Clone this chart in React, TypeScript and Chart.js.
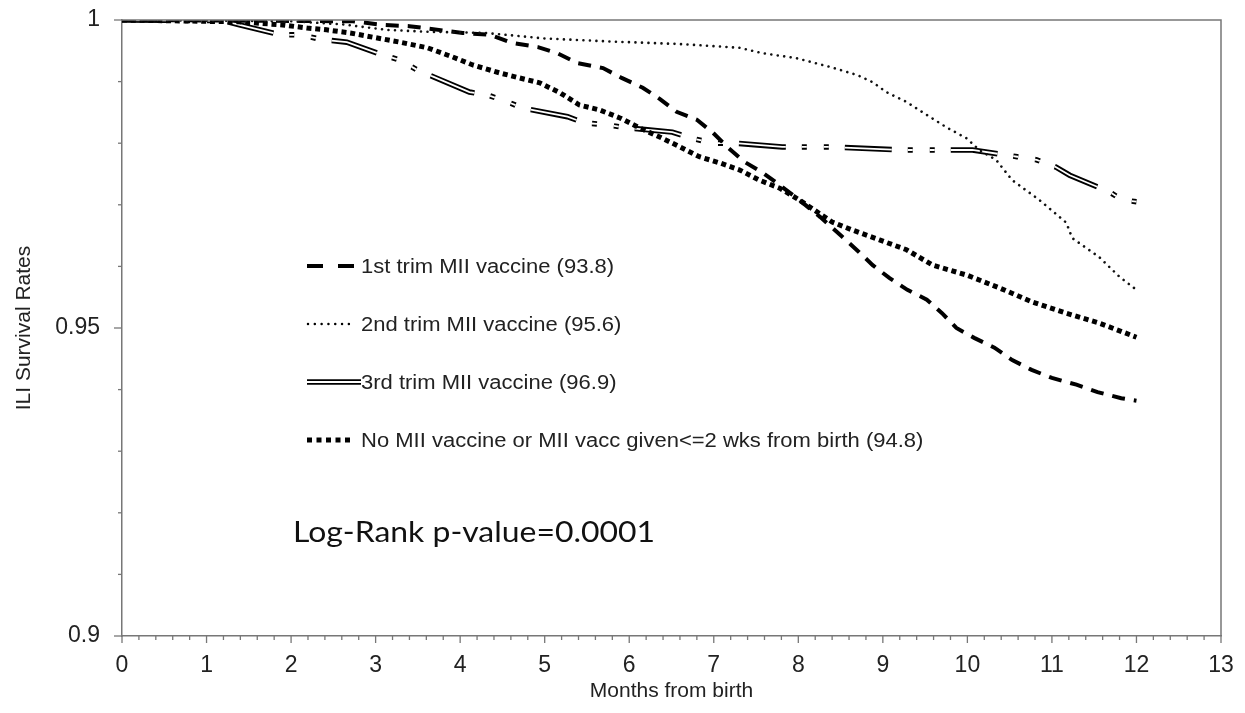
import React, { useEffect, useRef } from 'react';
import { Chart, registerables } from 'chart.js';

Chart.register(...registerables);

const FONT = '"Liberation Sans", Arial, Helvetica, sans-serif';

// ---- data (months from birth, survival) ----
const trim1X = [0, 2.73, 3.09, 3.40, 4.03, 4.35, 4.61, 4.92, 5.15, 5.39, 5.69, 5.91, 6.16, 6.36, 6.56, 6.80, 6.99, 7.16, 7.36, 7.58, 7.78, 8.01, 8.26, 8.52, 8.72, 8.88, 9.08, 9.29, 9.52, 9.70, 9.87, 10.08, 10.32, 10.53, 10.76, 11.00, 11.29, 11.54, 11.82, 12.0];
const trim1Y = [1, 0.9998, 0.9992, 0.9990, 0.9979, 0.9976, 0.9963, 0.9956, 0.9946, 0.9930, 0.9922, 0.9906, 0.9890, 0.9872, 0.9851, 0.9838, 0.9817, 0.9794, 0.9770, 0.9752, 0.9732, 0.9708, 0.9680, 0.9648, 0.9623, 0.9602, 0.9581, 0.9562, 0.9546, 0.9524, 0.9500, 0.9484, 0.9468, 0.9448, 0.9432, 0.9419, 0.9408, 0.9396, 0.9386, 0.9382];

const trim2X = [0, 2.0, 2.6, 3.13, 3.6, 4.3, 5.0, 5.8, 6.6, 7.3, 7.58, 7.98, 8.37, 8.69, 8.88, 9.04, 9.28, 9.52, 9.75, 9.99, 10.14, 10.34, 10.53, 10.85, 11.17, 11.24, 11.56, 11.80, 12.0];
const trim2Y = [1, 0.9998, 0.9993, 0.9984, 0.9981, 0.9979, 0.9970, 0.9965, 0.9961, 0.9955, 0.9946, 0.9938, 0.9924, 0.9911, 0.9899, 0.9883, 0.9867, 0.9846, 0.9826, 0.9808, 0.9789, 0.9773, 0.9740, 0.9708, 0.9671, 0.9646, 0.9615, 0.9583, 0.9562];

const trim3X = [0, 1.2, 1.39, 1.87, 2.10, 2.38, 2.66, 3.09, 3.29, 3.49, 3.68, 4.11, 4.33, 4.56, 4.74, 5.27, 5.47, 5.73, 5.97, 6.51, 6.74, 6.99, 7.27, 7.81, 8.37, 9.23, 9.81, 10.06, 10.59, 10.82, 11.05, 11.21, 11.68, 11.83, 12.0];
const trim3Y = [1, 0.9999, 0.9992, 0.9976, 0.9976, 0.9968, 0.9964, 0.9943, 0.9935, 0.9919, 0.9908, 0.9883, 0.9878, 0.9867, 0.9857, 0.9843, 0.9833, 0.9830, 0.9825, 0.9818, 0.9808, 0.9800, 0.9800, 0.9794, 0.9794, 0.9789, 0.9789, 0.9789, 0.9778, 0.9773, 0.9761, 0.9748, 0.9721, 0.9708, 0.9705];

const noVaccX = [0, 1.39, 1.90, 2.19, 2.42, 2.70, 2.97, 3.29, 3.61, 3.91, 4.15, 4.47, 4.70, 4.94, 5.18, 5.41, 5.65, 5.89, 6.12, 6.36, 6.60, 6.83, 7.07, 7.30, 7.54, 7.78, 8.01, 8.40, 8.64, 8.96, 9.28, 9.59, 9.99, 10.38, 10.77, 11.17, 11.56, 12.0];
const noVaccY = [1, 0.9997, 0.9992, 0.9987, 0.9984, 0.9979, 0.9972, 0.9964, 0.9955, 0.9940, 0.9927, 0.9914, 0.9906, 0.9898, 0.9882, 0.9862, 0.9854, 0.9841, 0.9825, 0.9810, 0.9794, 0.9778, 0.9768, 0.9757, 0.9740, 0.9727, 0.9708, 0.9672, 0.9659, 0.9643, 0.9627, 0.9602, 0.9586, 0.9565, 0.9542, 0.9524, 0.9508, 0.9485];

const seriesLabels = [
  '1st trim MII vaccine (93.8)',
  '2nd trim MII vaccine (95.6)',
  '3rd trim MII vaccine (96.9)',
  'No MII vaccine or MII vacc given<=2 wks from birth (94.8)',
];
const yLabelValues = [0.9, 0.95, 1];
const annotationText = 'Log-Rank p-value=0.0001';

function pts(xs: number[], ys: number[]) {
  return xs.map((x, i) => ({ x, y: ys[i] }));
}

const DASH1 = [13, 9];
const DOT2 = [0.01, 6.5];
const DASH3 = [47, 16, 5, 17, 5, 16];
const SQ4 = [5, 3.8];

export default function App() {
  const ref = useRef<HTMLCanvasElement | null>(null);

  useEffect(() => {
    if (!ref.current) return;

    const framePlugin = {
      id: 'frameTicks',
      afterDraw(chart: any) {
        const { ctx, chartArea: a } = chart;
        ctx.save();
        ctx.strokeStyle = '#777';
        ctx.lineWidth = 1.5;
        ctx.setLineDash([]);
        ctx.beginPath();
        ctx.moveTo(a.left, a.top);
        ctx.lineTo(a.right, a.top);
        ctx.lineTo(a.right, a.bottom);
        ctx.stroke();
        ctx.lineWidth = 1.3;
        const xs = chart.scales.x;
        for (let i = 0; i <= 65; i++) {
          const px = xs.getPixelForValue(i / 5);
          const len = i % 5 === 0 ? 7 : 4;
          ctx.beginPath();
          ctx.moveTo(px, a.bottom);
          ctx.lineTo(px, a.bottom + len);
          ctx.stroke();
        }
        const ys = chart.scales.y;
        for (let i = 0; i <= 10; i++) {
          const py = ys.getPixelForValue(0.9 + i / 100);
          const len = i === 0 || i === 5 || i === 10 ? 8 : 4;
          ctx.beginPath();
          ctx.moveTo(a.left, py);
          ctx.lineTo(a.left - len, py);
          ctx.stroke();
        }
        ctx.restore();
      },
    };

    const legendPlugin = {
      id: 'customLegend',
      afterDraw(chart: any) {
        const ctx = chart.ctx as CanvasRenderingContext2D;
        const rows = [258, 316, 374, 432];
        const x0 = 299;
        const x1 = 345;
        ctx.save();
        ctx.strokeStyle = '#000';
        ctx.lineCap = 'butt';
        ctx.lineWidth = 4;
        ctx.setLineDash([16, 15]);
        ctx.beginPath(); ctx.moveTo(x0, rows[0]); ctx.lineTo(x1 + 1, rows[0]); ctx.stroke();
        ctx.lineCap = 'round';
        ctx.lineWidth = 2.5;
        ctx.setLineDash([0.01, 6.8]);
        ctx.beginPath(); ctx.moveTo(x0 + 1, rows[1]); ctx.lineTo(x1 + 1, rows[1]); ctx.stroke();
        ctx.lineCap = 'butt';
        ctx.setLineDash([]);
        ctx.lineWidth = 5.5;
        ctx.beginPath(); ctx.moveTo(x0, rows[2]); ctx.lineTo(x1 + 8, rows[2]); ctx.stroke();
        ctx.strokeStyle = '#fff';
        ctx.lineWidth = 1.8;
        ctx.beginPath(); ctx.moveTo(x0 - 1, rows[2]); ctx.lineTo(x1 + 9, rows[2]); ctx.stroke();
        ctx.strokeStyle = '#000';
        ctx.lineWidth = 5;
        ctx.setLineDash([5, 4.5]);
        ctx.beginPath(); ctx.moveTo(x0, rows[3]); ctx.lineTo(x1 + 1, rows[3]); ctx.stroke();

        ctx.setLineDash([]);
        ctx.fillStyle = '#222';
        ctx.font = '20px ' + FONT;
        ctx.textBaseline = 'alphabetic';
        ctx.textAlign = 'left';
        seriesLabels.forEach((t, i) => {
          ctx.save();
          ctx.translate(353, rows[i] + 7);
          ctx.scale(1.1, 1);
          ctx.fillText(t, 0, 0);
          ctx.restore();
        });

        ctx.font = '29px Lato, "Open Sans", sans-serif';
        ctx.fillStyle = '#111';
        const w = ctx.measureText(annotationText).width;
        ctx.save();
        ctx.translate(285, 534);
        ctx.scale(362 / w, 1);
        ctx.fillText(annotationText, 0, 0);
        ctx.restore();
        ctx.restore();
      },
    };

    const chart = new Chart(ref.current, {
      type: 'line',
      data: {
        datasets: [
          {
            label: seriesLabels[0],
            data: pts(trim1X, trim1Y),
            borderColor: '#000',
            borderWidth: 4,
            borderDash: DASH1,
            borderCapStyle: 'butt',
            pointRadius: 0,
            fill: false,
            order: 2,
          },
          {
            label: seriesLabels[1],
            data: pts(trim2X, trim2Y),
            borderColor: '#111',
            borderWidth: 2.6,
            borderDash: DOT2,
            borderCapStyle: 'round',
            pointRadius: 0,
            fill: false,
            order: 1,
          },
          {
            label: seriesLabels[2],
            data: pts(trim3X, trim3Y),
            borderColor: '#000',
            borderWidth: 5.5,
            borderDash: DASH3,
            borderCapStyle: 'butt',
            pointRadius: 0,
            fill: false,
            order: 6,
          },
          {
            label: seriesLabels[2] + ' inner',
            data: pts(trim3X, trim3Y),
            borderColor: '#fff',
            borderWidth: 1.8,
            borderDash: DASH3,
            borderCapStyle: 'butt',
            pointRadius: 0,
            fill: false,
            order: 5,
          },
          {
            label: seriesLabels[3],
            data: pts(noVaccX, noVaccY),
            borderColor: '#000',
            borderWidth: 5,
            borderDash: SQ4,
            borderCapStyle: 'butt',
            pointRadius: 0,
            fill: false,
            order: 3,
          },
        ],
      },
      options: {
        responsive: false,
        animation: false,
        layout: { padding: { top: 12, right: 16, left: 0, bottom: 0 } },
        plugins: { legend: { display: false }, tooltip: { enabled: false } },
        elements: { line: { tension: 0 }, point: { radius: 0 } },
        scales: {
          x: {
            type: 'linear',
            min: 0,
            max: 13,
            ticks: {
              stepSize: 1,
              autoSkip: false,
              maxRotation: 0,
              padding: 16,
              color: '#222',
              font: { family: FONT, size: 23 },
            },
            grid: { display: true, drawOnChartArea: false, drawTicks: false },
            border: { color: '#777', width: 1.5 },
            title: {
              display: true,
              text: 'Months from birth',
              color: '#222',
              font: { family: FONT, size: 21 },
              padding: { top: 0, bottom: 4 },
            },
            afterFit: (s: any) => {
              s.height = 72;
              s.paddingLeft = 0;
              s.paddingRight = 0;
            },
          },
          y: {
            type: 'linear',
            min: 0.9,
            max: 1,
            afterBuildTicks: (s: any) => {
              s.ticks = yLabelValues.map((v) => ({ value: v }));
            },
            ticks: {
              autoSkip: false,
              padding: 22,
              color: '#222',
              font: { family: FONT, size: 23 },
              callback: (v: any) => String(Math.round(Number(v) * 1000) / 1000),
            },
            grid: { display: true, drawOnChartArea: false, drawTicks: false },
            border: { color: '#777', width: 1.5 },
            title: {
              display: true,
              text: 'ILI Survival Rates',
              color: '#222',
              font: { family: FONT, size: 21 },
              padding: { top: 4, bottom: 0 },
            },
            afterFit: (s: any) => {
              s.width = 114;
              s.paddingTop = 0;
              s.paddingBottom = 0;
            },
          },
        },
      },
      plugins: [framePlugin, legendPlugin],
    } as any);

    return () => chart.destroy();
  }, []);

  return <canvas ref={ref} width={1229} height={700} />;
}
